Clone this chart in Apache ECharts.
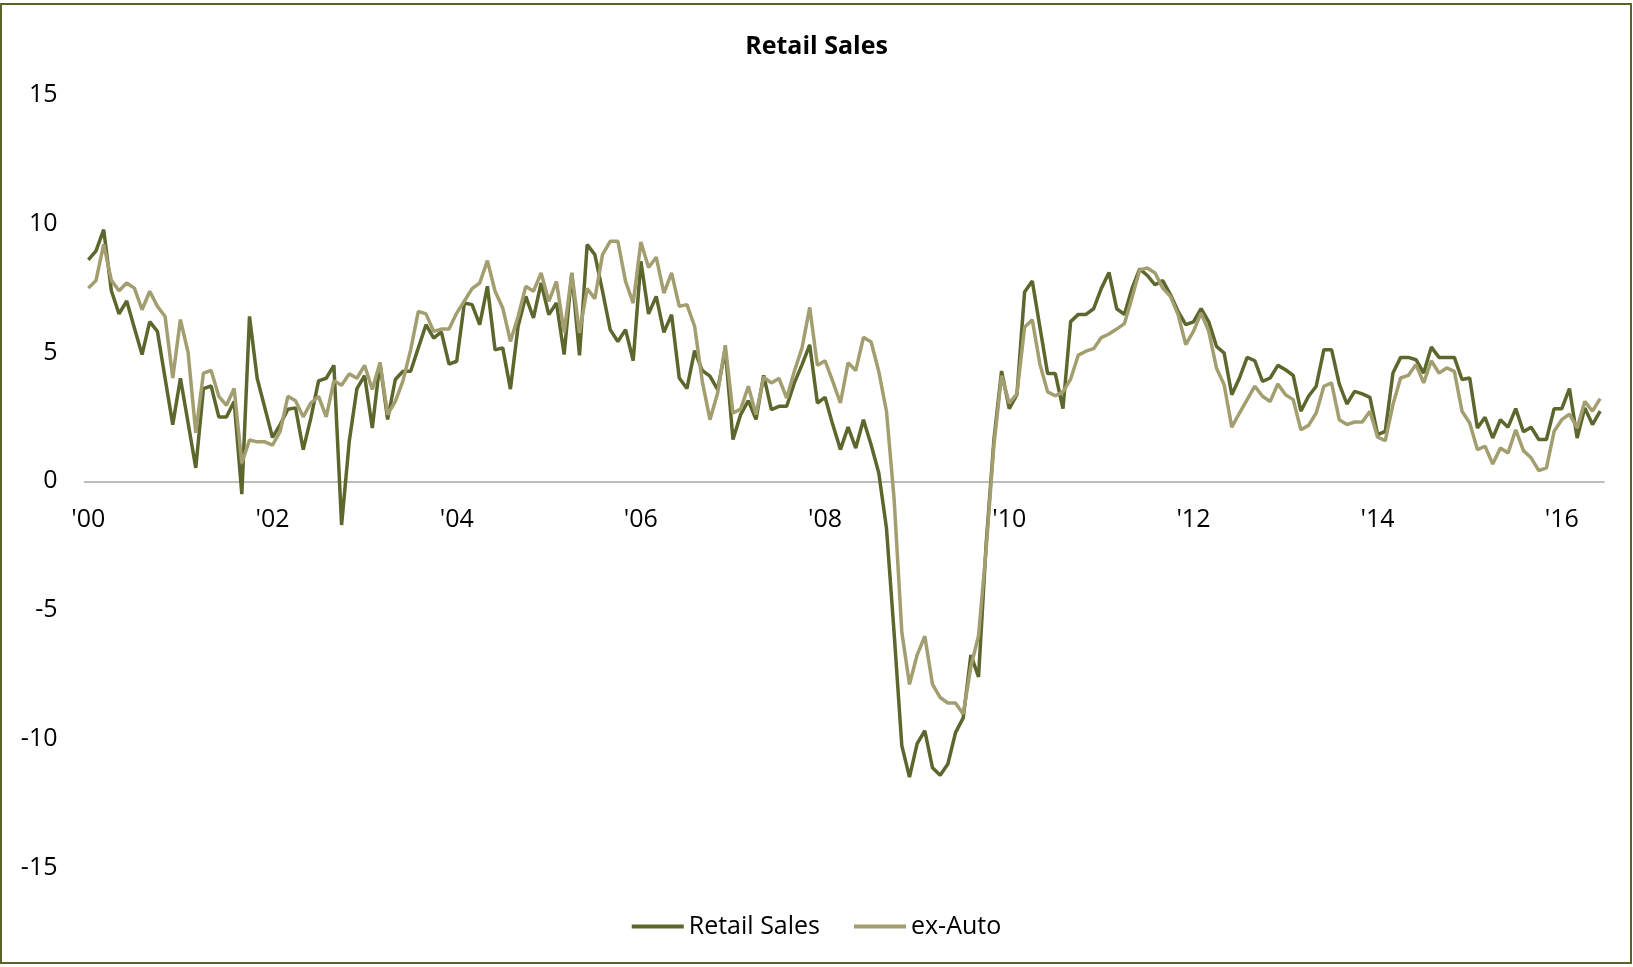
<!DOCTYPE html>
<html>
<head>
<meta charset="utf-8">
<script src="https://cdn.jsdelivr.net/npm/echarts@6/dist/echarts.min.js"></script>
<style>
  html, body { margin: 0; padding: 0; background: #ffffff; }
  #chart { width: 1633px; height: 967px; }
</style>
</head>
<body>
<div id="chart"></div>
<script>
// Monthly, Jan 2000 .. Jun 2016 (198 months)
const startYear = 2000;
const monthCount = 198;
const months = [];
for (let i = 0; i < monthCount; i++) {
  const y = startYear + Math.floor(i / 12);
  const m = (i % 12) + 1;
  months.push(y + '-' + (m < 10 ? '0' + m : m));
}

const retailSales = [
  8.6, 8.95, 9.77, 7.4, 6.5, 7.0, 5.95, 4.92, 6.2, 5.82, 4.0, 2.2,
  4.0, 2.26, 0.52, 3.6, 3.7, 2.5, 2.5, 3.1, -0.5, 6.4, 4.0, 2.85,
  1.7, 2.2, 2.8, 2.85, 1.23, 2.46, 3.9, 4.0, 4.5, -1.7, 1.55, 3.6,
  4.1, 2.07, 4.6, 2.4, 3.95, 4.27, 4.27, 5.18, 6.08, 5.56, 5.8, 4.55,
  4.66, 6.92, 6.86, 6.08, 7.57, 5.1, 5.18, 3.58, 6.02, 7.18, 6.34, 7.7,
  6.47, 6.92, 4.92, 8.09, 4.89, 9.19, 8.8, 7.38, 5.89, 5.43, 5.89, 4.68,
  8.54, 6.5, 7.18, 5.78, 6.47, 4.01, 3.6, 5.07, 4.3, 4.08, 3.56, 5.1,
  1.62, 2.59, 3.13, 2.4, 4.11, 2.78, 2.91, 2.91, 3.82, 4.53, 5.3, 3.04,
  3.26, 2.2, 1.23, 2.1, 1.29, 2.39, 1.42, 0.32, -1.82, -5.9, -10.27, -11.49,
  -10.19, -9.69, -11.13, -11.42, -10.98, -9.76, -9.19, -6.75, -7.6, -2.4, 1.6, 4.28,
  2.82, 3.36, 7.35, 7.78, 5.98, 4.18, 4.18, 2.82, 6.2, 6.48, 6.48, 6.7,
  7.49, 8.11, 6.7, 6.48, 7.49, 8.25, 7.99, 7.63, 7.79, 7.25, 6.6, 6.08,
  6.19, 6.7, 6.19, 5.24, 4.98, 3.36, 4.01, 4.81, 4.68, 3.88, 4.01, 4.5,
  4.33, 4.11, 2.72, 3.3, 3.69, 5.11, 5.11, 3.78, 3.0, 3.49, 3.39, 3.26,
  1.81, 1.94, 4.2, 4.81, 4.81, 4.72, 4.2, 5.21, 4.81, 4.81, 4.81, 3.95,
  4.01, 2.07, 2.48, 1.68, 2.39, 2.1, 2.82, 1.92, 2.1, 1.62, 1.62, 2.82,
  2.82, 3.6, 1.68, 2.85, 2.2, 2.72
];

const exAuto = [
  7.5, 7.8, 9.2, 7.8, 7.4, 7.7, 7.5, 6.66, 7.38, 6.79, 6.4, 4.01,
  6.28, 5.0, 1.88, 4.2, 4.3, 3.3, 2.95, 3.6, 0.7, 1.6, 1.53, 1.53,
  1.4, 1.94, 3.3, 3.13, 2.5, 3.04, 3.3, 2.5, 3.9, 3.73, 4.17, 4.0,
  4.5, 3.56, 4.6, 2.59, 3.1, 3.9, 5.1, 6.6, 6.5, 5.82, 5.91, 5.91,
  6.53, 7.0, 7.48, 7.7, 8.57, 7.38, 6.73, 5.43, 6.4, 7.57, 7.38, 8.09,
  6.99, 7.76, 5.78, 8.09, 5.76, 7.48, 7.09, 8.8, 9.32, 9.32, 7.76, 6.92,
  9.29, 8.3, 8.7, 7.31, 8.09, 6.79, 6.86, 6.02, 3.88, 2.39, 3.43, 5.28,
  2.65, 2.8, 3.69, 2.59, 4.04, 3.82, 3.99, 3.23, 4.27, 5.18, 6.75, 4.5,
  4.68, 3.88, 3.04, 4.6, 4.3, 5.59, 5.41, 4.26, 2.72, -0.7, -5.85, -7.89,
  -6.74, -6.02, -7.89, -8.4, -8.61, -8.61, -9.04, -7.2, -6.0, -2.6, 1.4, 4.1,
  3.03, 3.39, 5.98, 6.27, 4.54, 3.47, 3.32, 3.47, 3.97, 4.9, 5.05, 5.15,
  5.58, 5.72, 5.91, 6.12, 7.13, 8.21, 8.28, 8.09, 7.5, 7.18, 6.47, 5.31,
  5.82, 6.53, 5.82, 4.4, 3.75, 2.1, 2.65, 3.17, 3.69, 3.3, 3.1, 3.78,
  3.36, 3.17, 2.0, 2.17, 2.65, 3.69, 3.82, 2.39, 2.2, 2.3, 2.3, 2.72,
  1.71, 1.58, 2.98, 4.01, 4.11, 4.53, 3.82, 4.68, 4.2, 4.4, 4.27, 2.72,
  2.26, 1.23, 1.36, 0.67, 1.29, 1.1, 2.0, 1.19, 0.91, 0.41, 0.52, 1.94,
  2.39, 2.61, 2.07, 3.1, 2.72, 3.21
];

const seriesNames = ['Retail Sales', 'ex-Auto'];
const seriesColors = ['#5b672c', '#a39e70'];
const yMin = -15, yMax = 15, yStep = 5;
const labelEveryMonths = 24;

const FONT = '"Open Sans", "Noto Sans", sans-serif';

// grid geometry (pixels)
const gridTop = 95, gridBottom = 99.5, chartH = 967;
const plotH = chartH - gridTop - gridBottom;
// distance from bottom of plot to the zero line
const zeroOffset = plotH * (0 - yMin) / (yMax - yMin);

const chart = echarts.init(document.getElementById('chart'), null, { renderer: 'canvas' });
chart.setOption({
  backgroundColor: '#ffffff',
  animation: false,
  textStyle: { fontFamily: FONT },
  title: {
    text: 'Retail Sales',
    left: 'center',
    top: 29,
    textStyle: { fontFamily: FONT, fontSize: 25, fontWeight: 'bold', color: '#000000' }
  },
  legend: {
    data: seriesNames,
    left: 'center',
    top: 909,
    icon: 'rect',
    itemWidth: 52,
    itemHeight: 4,
    itemGap: 34,
    textStyle: { fontFamily: FONT, fontSize: 25, color: '#000000' }
  },
  grid: { left: 84.5, right: 29, top: gridTop, bottom: gridBottom, containLabel: false },
  xAxis: {
    type: 'category',
    data: months,
    boundaryGap: true,
    offset: -zeroOffset,
    axisLine: { onZero: false, lineStyle: { color: '#a6a6a6', width: 1.5 } },
    axisTick: { show: false },
    splitLine: { show: false },
    axisLabel: {
      interval: function (index) { return index % labelEveryMonths === 0; },
      formatter: function (v) { return "'" + v.slice(2, 4); },
      fontFamily: FONT,
      fontSize: 25,
      color: '#000000',
      margin: 26
    }
  },
  yAxis: {
    type: 'value',
    min: yMin,
    max: yMax,
    interval: yStep,
    axisLine: { show: false },
    axisTick: { show: false },
    splitLine: { show: false },
    axisLabel: { fontFamily: FONT, fontSize: 25, color: '#000000', margin: 27 }
  },
  graphic: [{
    type: 'rect',
    shape: { x: 1, y: 4, width: 1630, height: 959 },
    style: { fill: 'none', stroke: '#5a6428', lineWidth: 2 },
    silent: true
  }],
  series: [
    {
      name: seriesNames[0],
      type: 'line',
      data: retailSales,
      showSymbol: false,
      symbol: 'none',
      lineStyle: { width: 3.5, color: seriesColors[0] },
      itemStyle: { color: seriesColors[0] }
    },
    {
      name: seriesNames[1],
      type: 'line',
      data: exAuto,
      showSymbol: false,
      symbol: 'none',
      lineStyle: { width: 3.5, color: seriesColors[1] },
      itemStyle: { color: seriesColors[1] }
    }
  ]
});
</script>
</body>
</html>
